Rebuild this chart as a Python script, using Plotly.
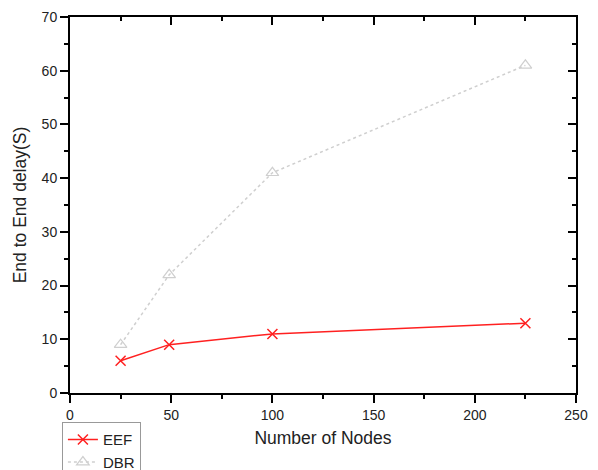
import plotly.graph_objects as go

nodes = [25, 49, 100, 225]
eef = [6, 9, 11, 13]
dbr = [9, 22, 41, 61]

x_title = "Number of Nodes"
y_title = "End to End delay(S)"

fig = go.Figure()
fig.add_trace(go.Scatter(
    x=nodes, y=eef, name="EEF", mode="lines+markers",
    line=dict(color="#ff2020", width=1.5),
    marker=dict(symbol="x-thin-open", size=10, color="#ff2020", line=dict(color="#ff2020", width=1.5)),
))
fig.add_trace(go.Scatter(
    x=nodes, y=dbr, name="DBR", mode="lines+markers",
    line=dict(color="#cfcfcf", width=1.5, dash="dot"),
    marker=dict(symbol="triangle-up-open", size=11, color="#cfcfcf", line=dict(color="#cfcfcf", width=1.2)),
))

font = "Liberation Sans, Arial, sans-serif"
axis_common = dict(showgrid=False, zeroline=False, showline=True, linecolor="black", linewidth=2,
                   tickcolor="black", tickwidth=1.5, ticklen=8,
                   tickfont=dict(family=font, size=14, color="#222"))

# page body has an 8px default margin, so margins are offset to compensate
fig.update_layout(
    width=598, height=470,
    margin=dict(l=62, r=30, t=9, b=85, autoexpand=False),
    paper_bgcolor="white", plot_bgcolor="white",
    font=dict(family=font, color="#222"),
    xaxis=dict(range=[0, 250], tickvals=[0, 50, 100, 150, 200, 250], ticks="outside",
               minor=dict(dtick=25, tick0=0, ticks="outside", ticklen=4, tickcolor="black", tickwidth=1.5),
               title=dict(text=x_title, font=dict(family=font, size=17.5, color="#222"), standoff=10),
               ticklabeloverflow="allow", **axis_common),
    yaxis=dict(range=[0, 70], tickvals=[0, 10, 20, 30, 40, 50, 60, 70], ticks="outside",
               minor=dict(dtick=5, tick0=0, ticks="outside", ticklen=4, tickcolor="black", tickwidth=1.5),
               title=dict(text=y_title, font=dict(family=font, size=17.5, color="#222"), standoff=10),
               ticklabeloverflow="allow", **axis_common),
    xaxis2=dict(range=[0, 250], overlaying="x", side="top", tickvals=[0, 50, 100, 150, 200, 250],
                ticks="inside", showticklabels=False,
                minor=dict(dtick=25, tick0=0, ticks="inside", ticklen=4, tickcolor="black", tickwidth=1.5),
                **axis_common),
    yaxis2=dict(range=[0, 70], overlaying="y", side="right", tickvals=[0, 10, 20, 30, 40, 50, 60, 70],
                ticks="inside", showticklabels=False,
                minor=dict(dtick=5, tick0=0, ticks="inside", ticklen=4, tickcolor="black", tickwidth=1.5),
                **axis_common),
    legend=dict(x=-0.016, y=-0.078, xanchor="left", yanchor="top",
                bordercolor="#999", borderwidth=1, bgcolor="white",
                font=dict(family=font, size=15, color="#222"),
                tracegroupgap=0, itemwidth=30),
    showlegend=True,
)
# invisible trace to activate the mirrored axes
fig.add_trace(go.Scatter(x=[None], y=[None], xaxis="x2", yaxis="y2", showlegend=False, hoverinfo="skip"))

fig.write_html("out.html")
